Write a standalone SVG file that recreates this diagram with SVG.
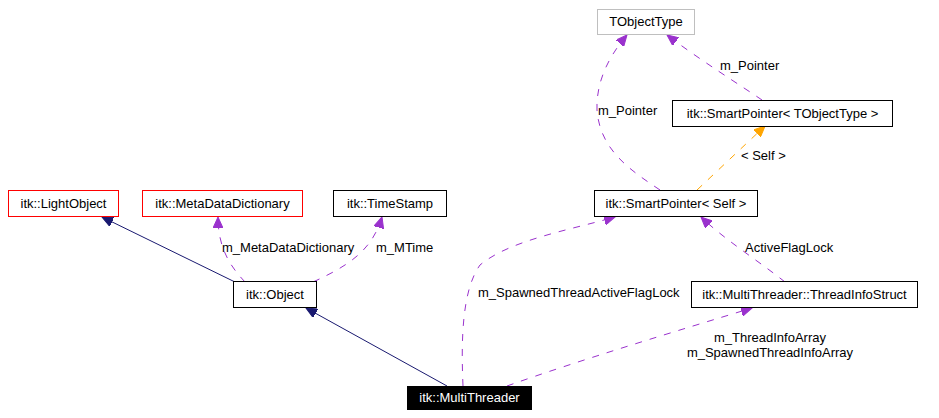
<svg xmlns="http://www.w3.org/2000/svg" width="939" height="418" viewBox="0 0 939 418">
<style>
text{font-family:"Liberation Sans",Arial,sans-serif;font-size:13px;fill:#000}
.box{fill:#fff;stroke:#000;stroke-width:1}
.red{stroke:#ff0000}
.grey{stroke:#bfbfbf}
.inh{fill:none;stroke:#191970;stroke-width:1}
.use{fill:none;stroke:#9a32cd;stroke-width:1;stroke-dasharray:7,8}
.tpl{fill:none;stroke:#ffa500;stroke-width:1;stroke-dasharray:7,8}
</style>
<defs>
<marker id="aN" markerUnits="userSpaceOnUse" markerWidth="12" markerHeight="10" refX="11" refY="5" orient="auto"><path d="M0,0 L11,5 L0,10 Z" fill="#191970" stroke="#191970"/></marker>
<marker id="aP" markerUnits="userSpaceOnUse" markerWidth="12" markerHeight="10" refX="11" refY="5" orient="auto"><path d="M0,0 L11,5 L0,10 Z" fill="#9a32cd" stroke="#9a32cd"/></marker>
<marker id="aO" markerUnits="userSpaceOnUse" markerWidth="12" markerHeight="10" refX="11" refY="5" orient="auto"><path d="M0,0 L11,5 L0,10 Z" fill="#ffa500" stroke="#ffa500"/></marker>
</defs>
<rect width="939" height="418" fill="#fff"/>
<g id="connectors">
<path class="inh" d="M235,282 L102,217" marker-end="url(#aN)"/>
<path class="use" d="M245,282 C232,268 218,250 218,217" marker-end="url(#aP)"/>
<path class="use" d="M313,282 C350,265 372,250 382,217" marker-end="url(#aP)"/>
<path class="inh" d="M447,386 L306,308" marker-end="url(#aN)"/>
<path class="use" d="M463,386 C461,340 462,290 480,265 C510,240 570,230 615,217" marker-end="url(#aP)"/>
<path class="use" d="M507,386 C580,360 680,330 752,308" marker-end="url(#aP)"/>
<path class="use" d="M785,282 C760,262 725,240 701,217" marker-end="url(#aP)"/>
<path class="use" d="M660,190 C630,170 600,150 597,110 C596,80 610,55 627,35" marker-end="url(#aP)"/>
<path class="use" d="M762,100 C740,85 700,60 667,35" marker-end="url(#aP)"/>
<path class="tpl" d="M697,190 L765,126" marker-end="url(#aO)"/>
<text x="222" y="252">m_MetaDataDictionary</text>
<text x="376" y="252">m_MTime</text>
<text x="478" y="297">m_SpawnedThreadActiveFlagLock</text>
<text x="770" y="342" text-anchor="middle">m_ThreadInfoArray</text>
<text x="770" y="357" text-anchor="middle">m_SpawnedThreadInfoArray</text>
<text x="745" y="252">ActiveFlagLock</text>
<text x="598" y="115">m_Pointer</text>
<text x="720" y="70">m_Pointer</text>
<text x="741" y="160">&lt; Self &gt;</text>
</g>
<g id="LightObject"><rect class="box red" x="8.5" y="190.5" width="110" height="26"/><text x="63.5" y="208" text-anchor="middle">itk::LightObject</text></g>
<g id="MetaDataDictionary"><rect class="box red" x="142.5" y="190.5" width="160" height="26"/><text x="222.5" y="208" text-anchor="middle">itk::MetaDataDictionary</text></g>
<g id="TimeStamp"><rect class="box" x="333.5" y="190.5" width="113" height="26"/><text x="390" y="208" text-anchor="middle">itk::TimeStamp</text></g>
<g id="Object"><rect class="box" x="233.5" y="281.5" width="83" height="26"/><text x="275" y="299" text-anchor="middle">itk::Object</text></g>
<g id="MultiThreader"><rect x="407" y="386" width="125" height="24" fill="#000"/><text x="469.5" y="402" text-anchor="middle" style="fill:#fff">itk::MultiThreader</text></g>
<g id="SmartPointerSelf"><rect class="box" x="594.5" y="190.5" width="163" height="26"/><text x="676" y="208" text-anchor="middle">itk::SmartPointer&lt; Self &gt;</text></g>
<g id="ThreadInfoStruct"><rect class="box" x="691.5" y="281.5" width="226" height="26"/><text x="804.5" y="299" text-anchor="middle">itk::MultiThreader::ThreadInfoStruct</text></g>
<g id="TObjectType"><rect class="box grey" x="597.5" y="9.5" width="97" height="25"/><text x="646" y="26" text-anchor="middle">TObjectType</text></g>
<g id="SmartPointerT"><rect class="box" x="672.5" y="100.5" width="220" height="26"/><text x="782.5" y="118" text-anchor="middle">itk::SmartPointer&lt; TObjectType &gt;</text></g>
</svg>
